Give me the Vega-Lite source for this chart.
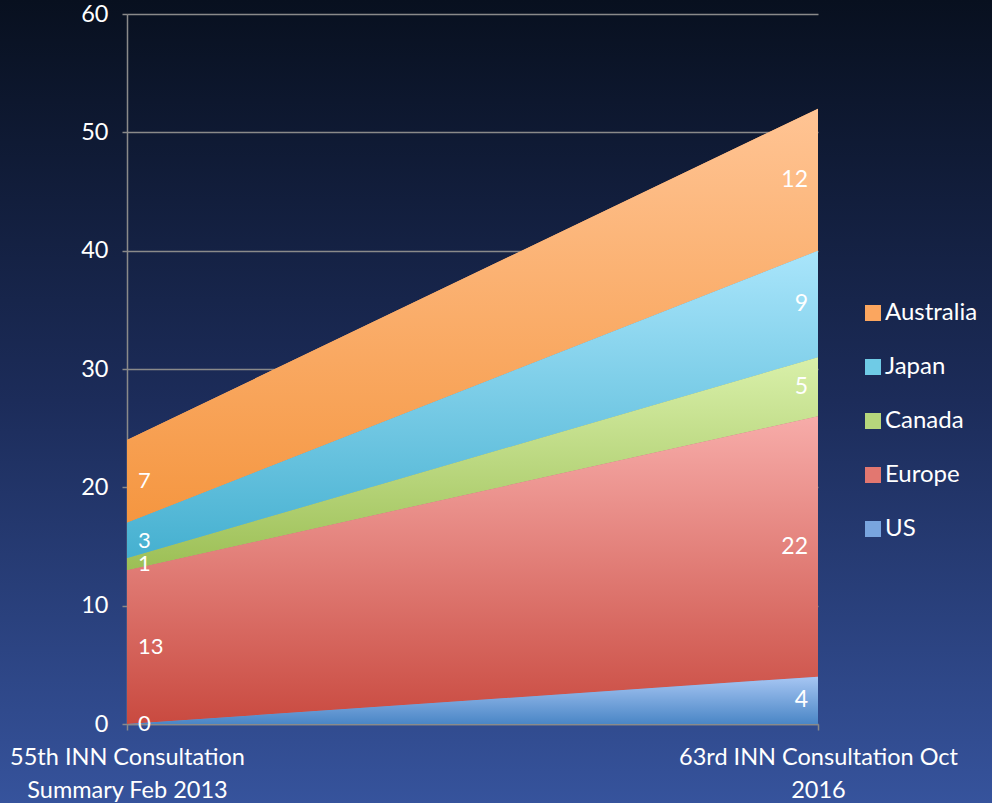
{
  "$schema": "https://vega.github.io/schema/vega-lite/v6.json",
  "width": 992,
  "height": 803,
  "autosize": {"type": "none"},
  "padding": 0,
  "background": "#1e2f60",
  "config": {
    "font": "Lato",
    "view": {
      "stroke": null,
      "fill": {"gradient": "linear", "x1": 0, "y1": 0, "x2": 0, "y2": 1,
        "stops": [{"offset": 0, "color": "#08101f"}, {"offset": 0.5, "color": "#1c2c5a"}, {"offset": 1, "color": "#36539c"}]}
    }
  },
  "data": {
    "values": [
      {"meeting": "55th INN Consultation\nSummary Feb 2013", "country": "US", "order": 1, "count": 0},
      {"meeting": "55th INN Consultation\nSummary Feb 2013", "country": "Europe", "order": 2, "count": 13},
      {"meeting": "55th INN Consultation\nSummary Feb 2013", "country": "Canada", "order": 3, "count": 1},
      {"meeting": "55th INN Consultation\nSummary Feb 2013", "country": "Japan", "order": 4, "count": 3},
      {"meeting": "55th INN Consultation\nSummary Feb 2013", "country": "Australia", "order": 5, "count": 7},
      {"meeting": "63rd INN Consultation Oct\n2016", "country": "US", "order": 1, "count": 4},
      {"meeting": "63rd INN Consultation Oct\n2016", "country": "Europe", "order": 2, "count": 22},
      {"meeting": "63rd INN Consultation Oct\n2016", "country": "Canada", "order": 3, "count": 5},
      {"meeting": "63rd INN Consultation Oct\n2016", "country": "Japan", "order": 4, "count": 9},
      {"meeting": "63rd INN Consultation Oct\n2016", "country": "Australia", "order": 5, "count": 12}
    ]
  },
  "transform": [
    {"stack": "count", "groupby": ["meeting"], "sort": [{"field": "order", "order": "ascending"}], "as": ["lo", "hi"]},
    {"calculate": "(datum.lo + datum.hi) / 2", "as": "mid"}
  ],
  "encoding": {
    "x": {
      "field": "meeting", "type": "ordinal", "sort": null,
      "scale": {"type": "point", "range": [127, 818], "padding": 0},
      "axis": {
        "orient": "bottom", "offset": -79, "title": null,
        "labelExpr": "split(datum.label, '\\n')",
        "labelAngle": 0, "labelColor": "white", "labelFontSize": 23.5, "labelLineHeight": 33,
        "labelPadding": 15, "labelLimit": 0, "labelOverlap": false,
        "tickSize": 6, "tickColor": "#8a8a8a", "tickWidth": 1.5,
        "domainColor": "#8a8a8a", "domainWidth": 1.5, "grid": false
      }
    }
  },
  "layer": [
    {
      "mark": {"type": "area"},
      "encoding": {
        "y": {
          "field": "hi", "type": "quantitative", "stack": null,
          "scale": {"domain": [0, 60], "range": [724, 14], "nice": false, "zero": false},
          "axis": {
            "orient": "left", "offset": -127, "title": null, "values": [0, 10, 20, 30, 40, 50, 60],
            "grid": true, "gridColor": "#8a8a8a", "gridWidth": 1.5,
            "domainColor": "#8a8a8a", "domainWidth": 1.5,
            "tickColor": "#8a8a8a", "tickWidth": 1.5, "tickSize": 5,
            "labelColor": "white", "labelFontSize": 23.5, "labelPadding": 14
          }
        },
        "y2": {"field": "lo"},
        "color": {
          "field": "country", "type": "nominal",
          "scale": {"domain": ["Australia", "Japan", "Canada", "Europe", "US"],
                    "range": ["#fba65f", "#6fcbe6", "#b6d77c", "#e27770", "#79a5de"]},
          "legend": {
            "orient": "none", "legendX": 861, "legendY": 301, "title": null,
            "symbolType": "square", "symbolSize": 256, "symbolStrokeWidth": 0, "symbolOpacity": 1,
            "labelFontSize": 24, "labelColor": "white", "rowPadding": 30, "labelOffset": 0
          }
        }
      }
    },
    {
      "transform": [{"filter": "datum.country == 'Australia'"}],
      "mark": {"type": "area", "fill": {"gradient": "linear", "x1": 0, "y1": 0, "x2": 0, "y2": 1,
        "stops": [{"offset": 0, "color": "#ffc494"}, {"offset": 1, "color": "#f59640"}]}},
      "encoding": {"y": {"field": "hi", "type": "quantitative", "stack": null}, "y2": {"field": "lo"}}
    },
    {
      "transform": [{"filter": "datum.country == 'Japan'"}],
      "mark": {"type": "area", "fill": {"gradient": "linear", "x1": 0, "y1": 0, "x2": 0, "y2": 1,
        "stops": [{"offset": 0, "color": "#a9e5fb"}, {"offset": 1, "color": "#45b0d0"}]}},
      "encoding": {"y": {"field": "hi", "type": "quantitative", "stack": null}, "y2": {"field": "lo"}}
    },
    {
      "transform": [{"filter": "datum.country == 'Canada'"}],
      "mark": {"type": "area", "fill": {"gradient": "linear", "x1": 0, "y1": 0, "x2": 0, "y2": 1,
        "stops": [{"offset": 0, "color": "#d9f0aa"}, {"offset": 1, "color": "#9cbf55"}]}},
      "encoding": {"y": {"field": "hi", "type": "quantitative", "stack": null}, "y2": {"field": "lo"}}
    },
    {
      "transform": [{"filter": "datum.country == 'Europe'"}],
      "mark": {"type": "area", "fill": {"gradient": "linear", "x1": 0, "y1": 0, "x2": 0, "y2": 1,
        "stops": [{"offset": 0, "color": "#f7aca9"}, {"offset": 1, "color": "#c94a40"}]}},
      "encoding": {"y": {"field": "hi", "type": "quantitative", "stack": null}, "y2": {"field": "lo"}}
    },
    {
      "transform": [{"filter": "datum.country == 'US'"}],
      "mark": {"type": "area", "fill": {"gradient": "linear", "x1": 0, "y1": 0, "x2": 0, "y2": 1,
        "stops": [{"offset": 0, "color": "#a7c6f3"}, {"offset": 1, "color": "#4a86c6"}]}},
      "encoding": {"y": {"field": "hi", "type": "quantitative", "stack": null}, "y2": {"field": "lo"}}
    },
    {
      "transform": [{"filter": "indexof(datum.meeting, '55th') == 0"}],
      "mark": {"type": "text", "align": "left", "baseline": "middle", "dx": 11, "fontSize": 22, "color": "white"},
      "encoding": {"y": {"field": "mid", "type": "quantitative"}, "text": {"field": "count", "type": "quantitative"}}
    },
    {
      "transform": [{"filter": "indexof(datum.meeting, '63rd') == 0"}],
      "mark": {"type": "text", "align": "right", "baseline": "middle", "dx": -10, "fontSize": 23, "color": "white"},
      "encoding": {"y": {"field": "mid", "type": "quantitative"}, "text": {"field": "count", "type": "quantitative"}}
    }
  ]
}
